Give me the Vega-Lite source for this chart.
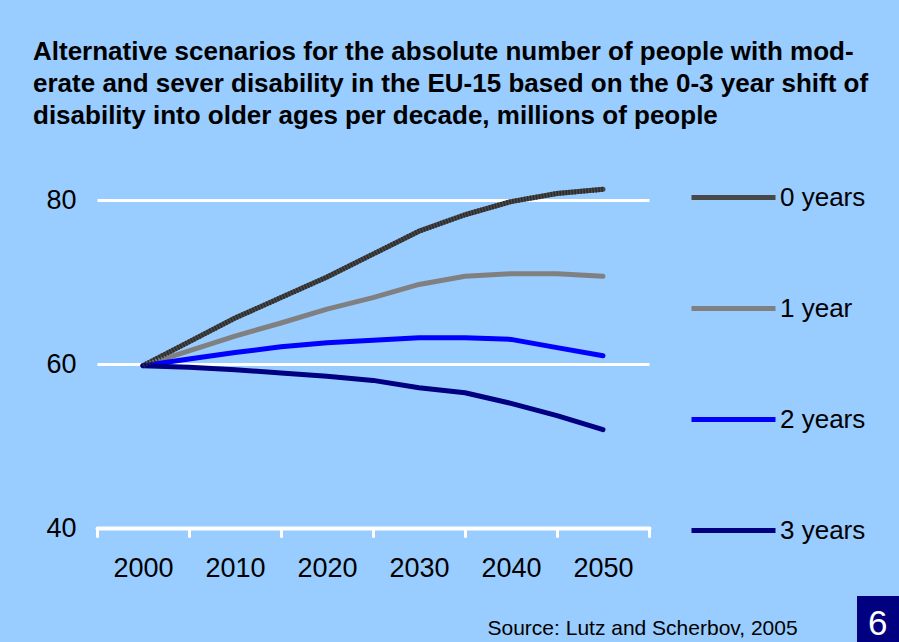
{
  "$schema": "https://vega.github.io/schema/vega-lite/v6.json",
  "autosize": "none",
  "width": 552,
  "height": 328,
  "padding": {"left": 97, "top": 200, "right": 250, "bottom": 114},
  "background": "#99CCFF",
  "config": {
    "font": "Liberation Sans",
    "view": {"stroke": null}
  },
  "title": {
    "text": [
      "Alternative scenarios for the absolute number of people with mod-",
      "erate and sever disability in the EU-15 based on the 0-3 year shift of",
      "disability into older ages per decade, millions of people"
    ],
    "anchor": "start",
    "frame": "group",
    "dx": -64,
    "fontSize": 26,
    "fontWeight": "bold",
    "lineHeight": 32,
    "color": "black",
    "offset": 24
  },
  "data": {
    "values": [
      {"year": 2000, "series": "0 years", "value": 59.8},
      {"year": 2005, "series": "0 years", "value": 62.7},
      {"year": 2010, "series": "0 years", "value": 65.6},
      {"year": 2015, "series": "0 years", "value": 68.1},
      {"year": 2020, "series": "0 years", "value": 70.6},
      {"year": 2025, "series": "0 years", "value": 73.4},
      {"year": 2030, "series": "0 years", "value": 76.2},
      {"year": 2035, "series": "0 years", "value": 78.2},
      {"year": 2040, "series": "0 years", "value": 79.8},
      {"year": 2045, "series": "0 years", "value": 80.8},
      {"year": 2050, "series": "0 years", "value": 81.3},
      {"year": 2000, "series": "1 year", "value": 59.8},
      {"year": 2005, "series": "1 year", "value": 61.6},
      {"year": 2010, "series": "1 year", "value": 63.4},
      {"year": 2015, "series": "1 year", "value": 65.0},
      {"year": 2020, "series": "1 year", "value": 66.7},
      {"year": 2025, "series": "1 year", "value": 68.1},
      {"year": 2030, "series": "1 year", "value": 69.7},
      {"year": 2035, "series": "1 year", "value": 70.7},
      {"year": 2040, "series": "1 year", "value": 71.0},
      {"year": 2045, "series": "1 year", "value": 71.0},
      {"year": 2050, "series": "1 year", "value": 70.7},
      {"year": 2000, "series": "2 years", "value": 59.8},
      {"year": 2005, "series": "2 years", "value": 60.6},
      {"year": 2010, "series": "2 years", "value": 61.4},
      {"year": 2015, "series": "2 years", "value": 62.1},
      {"year": 2020, "series": "2 years", "value": 62.6},
      {"year": 2025, "series": "2 years", "value": 62.9},
      {"year": 2030, "series": "2 years", "value": 63.2},
      {"year": 2035, "series": "2 years", "value": 63.2},
      {"year": 2040, "series": "2 years", "value": 63.0},
      {"year": 2045, "series": "2 years", "value": 62.0},
      {"year": 2050, "series": "2 years", "value": 61.0},
      {"year": 2000, "series": "3 years", "value": 59.8},
      {"year": 2005, "series": "3 years", "value": 59.6},
      {"year": 2010, "series": "3 years", "value": 59.3},
      {"year": 2015, "series": "3 years", "value": 58.9},
      {"year": 2020, "series": "3 years", "value": 58.5},
      {"year": 2025, "series": "3 years", "value": 58.0},
      {"year": 2030, "series": "3 years", "value": 57.1},
      {"year": 2035, "series": "3 years", "value": 56.5},
      {"year": 2040, "series": "3 years", "value": 55.2},
      {"year": 2045, "series": "3 years", "value": 53.7},
      {"year": 2050, "series": "3 years", "value": 52.0}
    ]
  },
  "encoding": {
    "x": {
      "field": "year",
      "type": "quantitative",
      "scale": {"domain": [1995, 2055], "nice": false, "zero": false},
      "axis": {
        "values": [1995, 2005, 2015, 2025, 2035, 2045, 2055],
        "labelExpr": "datum.value >= 2055 ? '' : toString(datum.value + 5)",
        "labelOffset": 46,
        "labelFlush": false,
        "labelOverlap": false,
        "labelFontSize": 27,
        "labelColor": "black",
        "labelPadding": 19,
        "grid": false,
        "domainColor": "white",
        "domainWidth": 4,
        "domainCap": "round",
        "tickColor": "white",
        "tickWidth": 3,
        "tickSize": 8,
        "tickCap": "round",
        "title": "Source: Lutz and Scherbov, 2005",
        "titleFontSize": 21,
        "titleFontWeight": "normal",
        "titleColor": "black",
        "titleAlign": "left",
        "titleAnchor": "start",
        "titleBaseline": "alphabetic",
        "titleX": 390,
        "titleY": 106
      }
    },
    "y": {
      "field": "value",
      "type": "quantitative",
      "scale": {"domain": [40, 80], "nice": false, "zero": false},
      "axis": {
        "values": [40, 60, 80],
        "domain": false,
        "ticks": false,
        "tickSize": 0,
        "labelFontSize": 27,
        "labelColor": "black",
        "labelPadding": 21,
        "grid": true,
        "gridColor": "white",
        "gridWidth": 3,
        "gridOpacity": 1,
        "title": null
      }
    }
  },
  "layer": [
    {
      "mark": {"type": "line", "strokeWidth": 5, "strokeCap": "round", "strokeJoin": "round"},
      "encoding": {
        "color": {
          "field": "series",
          "type": "nominal",
          "scale": {
            "domain": ["0 years", "1 year", "2 years", "3 years"],
            "range": ["#484848", "#808080", "#0000FF", "#000080"]
          },
          "legend": {
            "orient": "none",
            "legendX": 592,
            "legendY": -47,
            "title": null,
            "symbolType": "stroke",
            "symbolSize": 7056,
            "symbolStrokeWidth": 5,
            "labelFontSize": 26,
            "labelColor": "black",
            "labelOffset": 2,
            "rowPadding": 53,
            "padding": 0
          }
        }
      }
    },
    {
      "transform": [{"filter": "datum.series == '0 years'"}],
      "mark": {
        "type": "line",
        "strokeWidth": 5,
        "strokeCap": "butt",
        "strokeJoin": "round",
        "strokeDash": [1.5, 1.5],
        "color": "#2c2c2c"
      }
    },
    {
      "data": {"values": [{"page": "6"}]},
      "mark": {"type": "point", "opacity": 0},
      "encoding": {
        "x": null,
        "y": null,
        "shape": {
          "field": "page",
          "type": "nominal",
          "legend": {
            "orient": "none",
            "legendX": 760,
            "legendY": 396,
            "title": "6",
            "titleColor": "white",
            "titleFontSize": 35,
            "titleFontWeight": "normal",
            "titleBaseline": "top",
            "titlePadding": 0,
            "fillColor": "#000080",
            "padding": 11,
            "symbolSize": 1600,
            "symbolOpacity": 0,
            "symbolStrokeWidth": 0,
            "labelExpr": "''",
            "labelFontSize": 1
          }
        }
      }
    }
  ]
}
